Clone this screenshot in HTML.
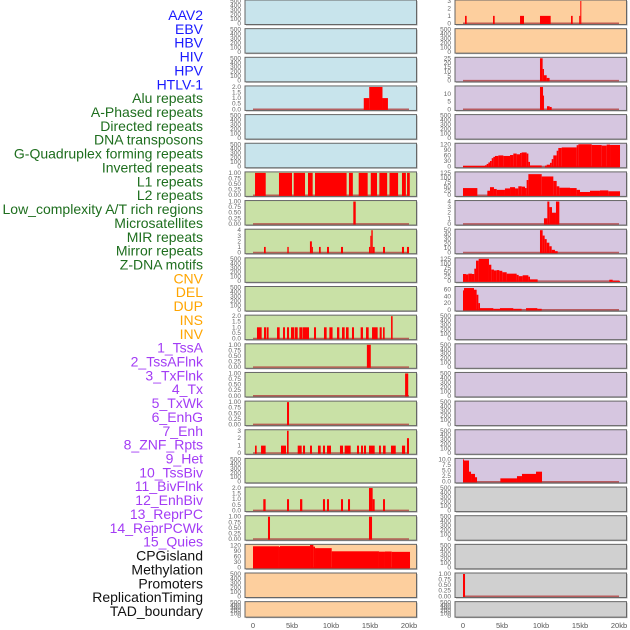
<!DOCTYPE html>
<html><head><meta charset="utf-8"><style>
body{margin:0;background:#fff;width:630px;height:630px;overflow:hidden}
svg{display:block}
text{font-family:"Liberation Sans",sans-serif}
</style></head><body>
<svg id="c" width="630" height="630" xmlns="http://www.w3.org/2000/svg"></svg>
<script>
const labels=["AAV2","EBV","HBV","HIV","HPV","HTLV-1","Alu repeats","A-Phased repeats","Directed repeats","DNA transposons","G-Quadruplex forming repeats","Inverted repeats","L1 repeats","L2 repeats","Low_complexity A/T rich regions","Microsatellites","MIR repeats","Mirror repeats","Z-DNA motifs","CNV","DEL","DUP","INS","INV","1_TssA","2_TssAFlnk","3_TxFlnk","4_Tx","5_TxWk","6_EnhG","7_Enh","8_ZNF_Rpts","9_Het","10_TssBiv","11_BivFlnk","12_EnhBiv","13_ReprPC","14_ReprPCWk","15_Quies","CPGisland","Methylation","Promoters","ReplicationTiming","TAD_boundary"];
const labelGroups=[6,13,5,15,5];
const groupColors=["#1a1aff","#1e6e1e","#ffa500","#a33cf5","#111"];
const xTicks=[0,5,10,15,20];
const xTickLabels=["0","5kb","10kb","15kb","20kb"];
// left column bar tracks (start kb, end kb, value)
const L3_s=[14.2,14.9,16.6], L3_e=[14.9,16.6,17.3], L3_v=[1,2,1];
const L6_s=[0.26,3.33,5.22,7.05,7.95,12.3,13.55,15.1,16.2,17.5,19.1,19.75], L6_e=[1.63,5.0,6.67,7.65,12.0,12.8,14.7,15.9,17.2,18.6,19.6,20.1], L6_v=[1,1,1,1,1,1,1,1,1,1,1,1];
const L7_s=[12.86], L7_e=[13.17], L7_v=[1];
const L8_s=[1.41,4.4,7.3,7.55,8.46,9.49,11.28,14.87,15.04,15.17,15.35,16.67,19.1,19.74], L8_e=[1.63,4.58,7.55,7.65,8.68,9.74,11.54,15.04,15.17,15.35,15.6,16.92,19.36,20.0], L8_v=[1,1,2,1,1,1,1,1,3,4,1,1,1,1];
const L11_s=[0.51,1.41,1.75,3.08,3.85,4.36,4.87,5.38,5.94,6.37,7.82,9.1,9.79,10.77,11.41,11.92,12.69,13.8,14.49,15.26,16.24,16.67,17.7], L11_e=[1.11,1.67,2.0,3.42,4.1,4.62,5.3,5.73,6.32,7.18,8.08,9.44,10.2,11.07,11.75,12.26,12.95,14.1,14.83,15.98,16.5,16.88,17.9], L11_v=[1,1,1,1,1,1,1,1,1,1,1,1,1,1,1,1,1,1,1,1,1,1,2];
const L12_s=[14.6], L12_e=[15.1], L12_v=[1];
const L13_s=[19.5], L13_e=[19.9], L13_v=[1];
const L14_s=[4.36], L14_e=[4.62], L14_v=[1];
const L15_s=[0.26,1.03,3.59,4.36,5.73,6.41,7.31,8.33,8.97,9.49,11.15,11.75,13.33,13.85,14.23,14.87,16.15,16.67,17.69,19.1,19.74], L15_e=[0.47,1.62,4.23,4.57,6.24,6.67,7.56,8.68,9.23,10.0,11.54,12.52,13.59,14.1,14.49,15.6,16.4,17.0,18.3,19.5,20.0], L15_v=[1,1,1,3,1,1,1,1,1,1,1,1,1,1,1,1,1,1,1,1,2];
const L17_s=[1.32,4.36,6.03,8.97,9.49,11.28,12.18,14.87,15.34,16.67], L17_e=[1.62,4.62,6.32,9.23,9.74,11.54,12.44,15.34,15.6,16.92], L17_v=[1,1,1,1,1,1,1,2,1,1];
const L18_s=[1.92,14.87], L18_e=[2.18,15.26], L18_v=[1,1];
// step tracks (starts, values, final end)
const L19_s=[0,3.33,3.46,7.31,7.74,7.95,10.09,16.15,16.92,17.78], L19_v=[115,112,116,122,113,105,88,86,87,85], L19_end=20.13;
// right column
const R0_s=[0.26,3.85,7.31,9.87,13.85,14.9,15.04], R0_e=[0.47,4.06,7.82,11.24,14.06,15.04,15.17], R0_v=[1,1,1,1,1,1,3];
const R2_s=[9.87,10.21,10.38,10.73], R2_v=[25,13,6,3], R2_end=11.1;
const R3_s=[9.87,10.26,10.38,10.77,11.11], R3_v=[14.7,9,0,2,1.5], R3_end=11.37;
const R5_s=[0,2.82,3.03,3.25,3.46,3.68,3.89,4.1,4.53,5.17,6.03,6.45,6.88,7.31,7.52,8.16,8.38,8.59,10.09,10.51,10.73,11.15,11.37,11.58,12.01,12.22,12.65,14.57,14.79,16.5,17.78,18.42,18.85], R5_v=[4,7,14,22,30,45,52,57,60,57,62,70,66,73,76,70,25,6,0,5,10,20,40,60,85,100,103,115,120,116,113,118,116], R5_end=20.13;
const R6_s=[0,1.84,3.12,3.46,3.97,4.32,5.38,6.03,6.67,7.09,7.52,7.95,8.16,8.38,10.09,11.58,12.01,12.35,13.72,14.57,15.0,16.28,17.56,18.63], R6_v=[40,0,25,45,35,30,38,45,38,50,48,40,85,118,105,80,50,42,40,30,18,25,27,22], R6_end=20.13;
const R7_s=[10.38,10.81,11.07,11.41,11.92], R7_v=[1,4,3,2,4], R7_end=12.35;
const R8_s=[9.87,10.21,10.47,10.73,11.07,11.37,11.79], R8_v=[50,38,30,22,14,6,3], R8_end=12.14;
const R9_s=[0,0.38,0.68,1.15,1.45,1.67,2.01,3.33,3.63,3.97,4.32,4.66,5.04,5.6,6.88,7.14,7.65,8.38,8.59,9.57,18.76,19.19], R9_v=[40,38,42,40,70,115,125,92,65,60,62,58,50,42,35,28,33,25,10,0,8,2], R9_end=20.13;
const R10_s=[0,0.13,1.41,1.75,1.97,2.18,3.89,4.74,6.45,7.52,8.08,9.53], R10_v=[58,65,60,45,20,5,3,5,3,0,5,3], R10_end=10.09;
const R16_s=[0,0.13,0.77,1.03,1.54,1.8,4.79,6.92,7.56,9.36], R16_v=[10,9.5,4.5,3.5,2,0,1.5,2.5,3.5,4.5], R16_end=10.13;
const R20_s=[0], R20_e=[0.26], R20_v=[1];

function stepToBars(s,v,end){const e=s.map((x,i)=>i<s.length-1?s[i+1]:end);return [s,e,v];}
const E=null;
// panel configs: [bars, ymax, tickStep, decimals]
const left=[
 [E,500,100,0],[E,500,100,0],[E,500,100,0],[[L3_s,L3_e,L3_v],2,0.5,1],[E,500,100,0],[E,500,100,0],
 [[L6_s,L6_e,L6_v],1,0.25,2],[[L7_s,L7_e,L7_v],1,0.25,2],[[L8_s,L8_e,L8_v],4,1,0],[E,500,100,0],[E,500,100,0],
 [[L11_s,L11_e,L11_v],2,0.5,1],[[L12_s,L12_e,L12_v],1,0.25,2],[[L13_s,L13_e,L13_v],1,0.25,2],[[L14_s,L14_e,L14_v],1,0.25,2],
 [[L15_s,L15_e,L15_v],3,1,0],[E,500,100,0],[[L17_s,L17_e,L17_v],2,0.5,1],[[L18_s,L18_e,L18_v],1,0.25,2],
 [stepToBars(L19_s,L19_v,L19_end),120,30,0],[E,500,100,0],[E,500,100,0]];
const right=[
 [[R0_s,R0_e,R0_v],3,1,0],[E,500,100,0],[stepToBars(R2_s,R2_v,R2_end),25,5,0],[stepToBars(R3_s,R3_v,R3_end),14.7,5,0],[E,500,100,0],
 [stepToBars(R5_s,R5_v,R5_end),120,30,0],[stepToBars(R6_s,R6_v,R6_end),125,25,0],[stepToBars(R7_s,R7_v,R7_end),4,1,0],
 [stepToBars(R8_s,R8_v,R8_end),50,10,0],[stepToBars(R9_s,R9_v,R9_end),125,25,0],[stepToBars(R10_s,R10_v,R10_end),66.6,20,0],
 [E,500,100,0],[E,500,100,0],[E,500,100,0],[E,500,100,0],[E,500,100,0],
 [stepToBars(R16_s,R16_v,R16_end),10,2.5,1],[E,500,100,0],[E,500,100,0],[E,500,100,0],[[R20_s,R20_e,R20_v],1,0.25,2],[E,500,100,0]];
const leftBg=i=>i<6?"#c8e4ec":(i<19?"#c9e1a6":"#fdcf9e");
const rightBg=i=>i<2?"#fdcf9e":(i<17?"#d6c6e0":"#d0d0d0");

const NS="http://www.w3.org/2000/svg";
const svg=document.getElementById("c");
function mk(t,a,p){const e=document.createElementNS(NS,t);for(const k in a)e.setAttribute(k,a[k]);(p||svg).appendChild(e);return e;}

// labels
let li=0;
labelGroups.forEach((n,g)=>{for(let k=0;k<n;k++){const t=mk("text",{x:203,y:20+li*13.86,"text-anchor":"end","font-size":"14",fill:groupColors[g]});t.textContent=labels[li];


li++;}});

function panel(cfg,i,px,bg,col){
  const top=i*28.65, h=(i===21?15.5:24.5), pw=171.5;
  const xs=kb=>px+8+kb*7.8;
  const g=mk("g",{});
  
  
  mk("rect",{x:px+1,y:top+1,width:pw,height:h,fill:"#aaa"},g);
  const r=mk("rect",{x:px,y:top,width:pw,height:h,fill:bg,stroke:"#666","stroke-width":1},g);
  
  
  const [bars,ymax,step,dec]=cfg;
  const y0=top+h-1.2, y1=top+1;
  const ys=v=>y0-(v/ymax)*(y0-y1);
  for(let v=0;v<=ymax+1e-9;v+=step){
    const t=mk("text",{x:px-4,y:ys(v)+2,"text-anchor":"end","font-size":"6.5",fill:"#666"},g);
    t.textContent=v.toFixed(dec);
    
    
  }
  if(bars){
    const b=mk("line",{x1:xs(0),x2:xs(20),y1:y0,y2:y0,stroke:"#b04040","stroke-width":1.5,"stroke-opacity":0.8},g);
    
    
    const [s,e,v]=bars;
    s.forEach((st,k)=>{if(v[k]<=0)return;
      const rr=mk("rect",{x:xs(st),y:ys(v[k]),width:Math.max(1,xs(e[k])-xs(st)),height:y0-ys(v[k])+0.7,fill:"#ff0000"},g);
      
      
    });
  }
}
left.forEach((c,i)=>panel(c,i,245,leftBg(i),'left'));
right.forEach((c,i)=>panel(c,i,455,rightBg(i),'right'));
[245,455].forEach(px=>{xTicks.forEach((v,k)=>{const t=mk("text",{x:px+8+v*7.8,y:628,"text-anchor":"middle","font-size":"7.5",fill:"#555"});t.textContent=xTickLabels[k];

});});
</script>
</body></html>
